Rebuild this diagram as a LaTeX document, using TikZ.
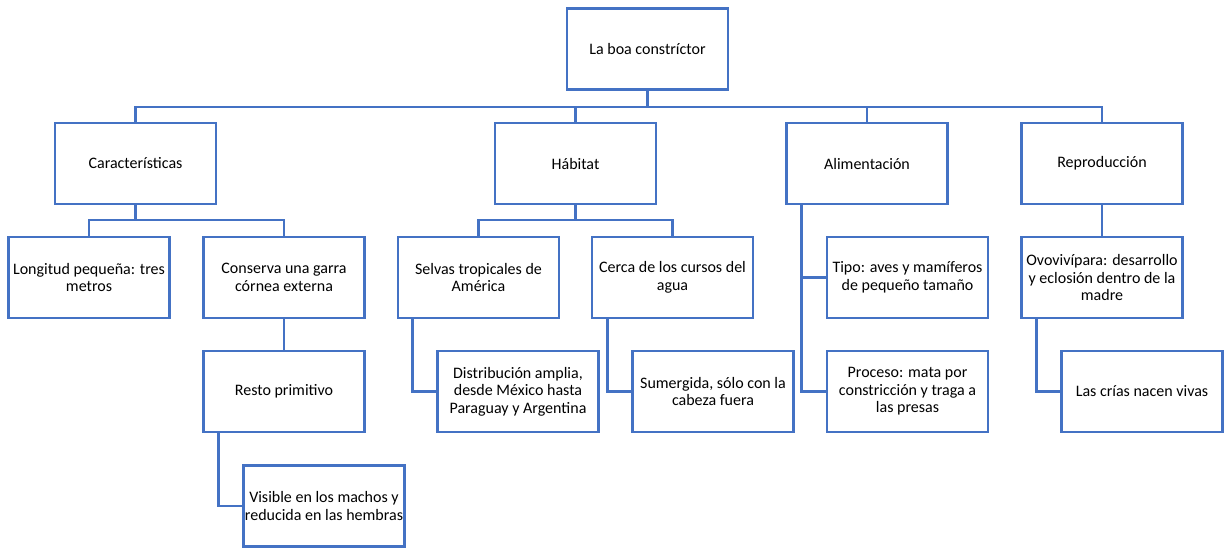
\documentclass[tikz,border=0pt]{standalone}
\usepackage{fontspec}
\setmainfont{Carlito}
\usepackage{tikz}
\definecolor{boxblue}{HTML}{4472C4}

\begin{document}
\begin{tikzpicture}[x=1pt, y=-1pt,
  box/.style={draw=boxblue, line width=2.6pt, fill=white, minimum width=161pt, minimum height=81pt, inner xsep=0pt, inner ysep=2pt, align=center, font=\fontsize{16}{17.5}\selectfont},
  link/.style={draw=boxblue, line width=2.6pt}]
\useasboundingbox (0,0) rectangle (1224,547);
\node[box] (root) at (647.5,49) {La boa constríctor};
\node[box] (car) at (135.5,163.5) {Características};
\node[box] (hab) at (575.5,163.5) {Hábitat};
\node[box] (ali) at (867,163.5) {Alimentación};
\node[box] (rep) at (1102,163.5) {Reproducción};
\node[box] (lon) at (89,277.5) {Longitud pequeña: tres\\metros};
\node[box] (con) at (284,277.5) {Conserva una garra\\córnea externa};
\node[box] (sel) at (478.5,277.5) {Selvas tropicales de\\América};
\node[box] (cer) at (672.5,277.5) {Cerca de los cursos del\\agua};
\node[box] (tipo) at (907.5,277.5) {Tipo: aves y mamíferos\\de pequeño tamaño};
\node[box] (ovo) at (1102,277.5) {Ovovivípara: desarrollo\\y eclosión dentro de la\\madre};
\node[box] (res) at (284,391.5) {Resto primitivo};
\node[box] (dist) at (518,391.5) {Distribución amplia,\\desde México hasta\\Paraguay y Argentina};
\node[box] (sum) at (713,391.5) {Sumergida, sólo con la\\cabeza fuera};
\node[box] (proc) at (907.5,391.5) {Proceso: mata por\\constricción y traga a\\las presas};
\node[box] (crias) at (1142,391.5) {Las crías nacen vivas};
\node[box] (vis) at (324,506) {Visible en los machos y\\reducida en las hembras};
\coordinate (bus) at (647.5,107);
\coordinate (carbus) at (135.5,220);
\coordinate (habbus) at (575.5,220);
\draw[link] (root.south) -- (bus) -| (car.north);
\draw[link] (bus) -| (hab.north);
\draw[link] (bus) -| (ali.north);
\draw[link] (bus) -| (rep.north);
\draw[link] (car.south) -- (carbus) -| (lon.north);
\draw[link] (carbus) -| (con.north);
\draw[link] (hab.south) -- (habbus) -| (sel.north);
\draw[link] (habbus) -| (cer.north);
\draw[link] (con.south) -- (res.north);
\draw[link] (rep.south) -- (ovo.north);
\draw[link] (ali.south west) ++(16.5,0) |- (tipo.west);
\draw[link] (ali.south west) ++(16.5,0) |- (proc.west);
\draw[link] (sel.south west) ++(16,0) |- (dist.west);
\draw[link] (cer.south west) ++(16.5,0) |- (sum.west);
\draw[link] (ovo.south west) ++(16.5,0) |- (crias.west);
\draw[link] (res.south west) ++(16,0) |- (vis.west);
\end{tikzpicture}
\end{document}
